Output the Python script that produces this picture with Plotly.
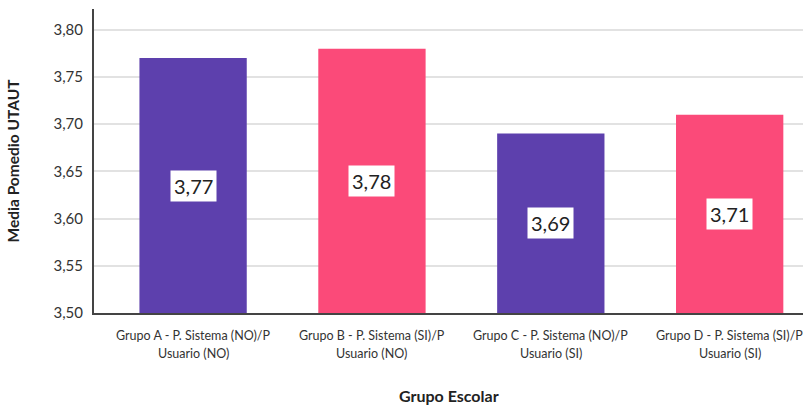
import plotly.graph_objects as go

# Mean UTAUT score per school group
linea_1 = [
    "Grupo A - P. Sistema (NO)/P",
    "Grupo B - P. Sistema (SI)/P",
    "Grupo C - P. Sistema (NO)/P",
    "Grupo D - P. Sistema (SI)/P",
]
linea_2 = ["Usuario (NO)", "Usuario (NO)", "Usuario (SI)", "Usuario (SI)"]
medias = [3.77, 3.78, 3.69, 3.71]
colores = ["#5D40AD", "#FB4A79", "#5D40AD", "#FB4A79"]
y_ticks = [3.50, 3.55, 3.60, 3.65, 3.70, 3.75, 3.80]
y_min = 3.50

FONT = "Lato"

x_pos = list(range(len(medias)))

fig = go.Figure()
fig.add_trace(go.Bar(
    x=x_pos,
    y=[m - y_min for m in medias],
    base=y_min,
    marker=dict(color=colores, line=dict(width=0)),
    width=0.6,
    hoverinfo="skip",
))

# Value labels in white boxes, centred on each bar
for xi, m in zip(x_pos, medias):
    fig.add_annotation(
        x=xi, y=(m + y_min) / 2,
        text=f"{m:.2f}".replace(".", ","),
        showarrow=False,
        bgcolor="white",
        borderpad=3,
        font=dict(family=FONT, size=20, color="#222222"),
    )

# Two-line category labels under the axis (drawn as annotations so the
# last one is not clipped at the right edge)
for xi, a, b in zip(x_pos, linea_1, linea_2):
    for txt, shift in ((a, -22), (b, -40)):
        fig.add_annotation(
            x=xi, xref="x", y=0, yref="paper",
            text=txt, showarrow=False,
            yanchor="middle", yshift=shift,
            font=dict(family=FONT, size=12.5, color="#333333"),
        )

# Axis title for x
fig.add_annotation(
    x=0.501, xref="paper", y=0, yref="paper",
    text="<b>Grupo Escolar</b>", showarrow=False,
    yanchor="middle", yshift=-82,
    font=dict(family=FONT, size=16, color="#222222"),
)

fig.update_layout(
    width=803, height=406,
    margin=dict(l=94, r=0, t=9, b=93),
    plot_bgcolor="white",
    paper_bgcolor="white",
    showlegend=False,
    font=dict(family=FONT, color="#333333"),
    xaxis=dict(
        tickmode="array",
        tickvals=x_pos,
        showticklabels=False,
        range=[-0.554, 3.41],
        showline=True, linecolor="#444444", linewidth=2,
        showgrid=False, zeroline=False,
        ticks="",
    ),
    yaxis=dict(
        range=[3.50, 3.822],
        tickmode="array",
        tickvals=y_ticks,
        ticktext=[f"{v:.2f}".replace(".", ",") for v in y_ticks],
        tickfont=dict(family=FONT, size=15, color="#333333"),
        ticklabelstandoff=6,
        showline=True, linecolor="#444444", linewidth=2,
        showgrid=True, gridcolor="#E2E2E2", gridwidth=1.5,
        zeroline=False,
        ticks="", ticklen=0,
        title=dict(text="<b>Media Pomedio UTAUT</b>", font=dict(family=FONT, size=15.5, color="#222222"), standoff=30),
    ),
)

fig.write_html("out.html")
